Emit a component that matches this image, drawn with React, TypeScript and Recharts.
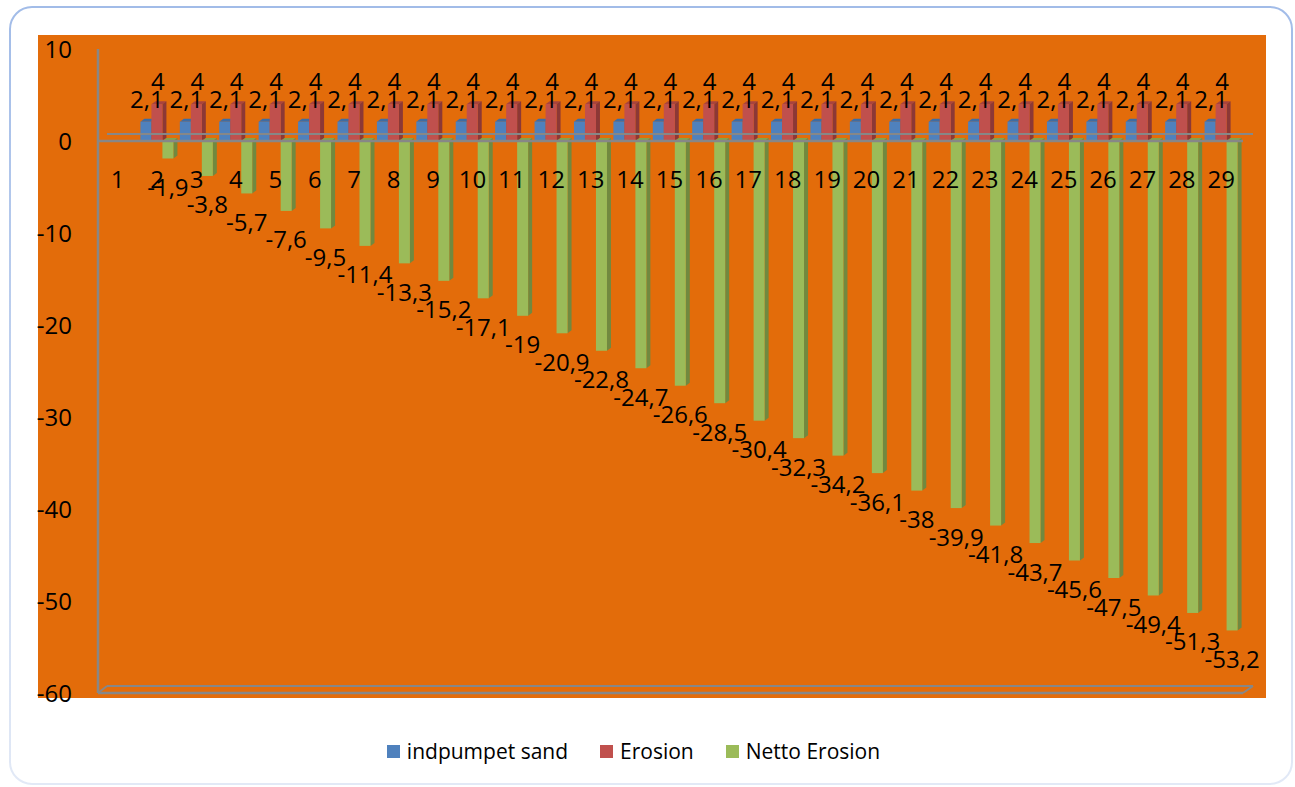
import React from 'react';
import { ComposedChart, Bar, Line, XAxis, YAxis, ReferenceLine, LabelList, Legend } from 'recharts';

const categories = ['1', '2', '3', '4', '5', '6', '7', '8', '9', '10', '11', '12', '13', '14', '15', '16', '17', '18', '19', '20', '21', '22', '23', '24', '25', '26', '27', '28', '29'];
const indpumpetSand = [null, 2.1, 2.1, 2.1, 2.1, 2.1, 2.1, 2.1, 2.1, 2.1, 2.1, 2.1, 2.1, 2.1, 2.1, 2.1, 2.1, 2.1, 2.1, 2.1, 2.1, 2.1, 2.1, 2.1, 2.1, 2.1, 2.1, 2.1, 2.1];
const erosion = [null, 4, 4, 4, 4, 4, 4, 4, 4, 4, 4, 4, 4, 4, 4, 4, 4, 4, 4, 4, 4, 4, 4, 4, 4, 4, 4, 4, 4];
const nettoErosion = [null, -1.9, -3.8, -5.7, -7.6, -9.5, -11.4, -13.3, -15.2, -17.1, -19, -20.9, -22.8, -24.7, -26.6, -28.5, -30.4, -32.3, -34.2, -36.1, -38, -39.9, -41.8, -43.7, -45.6, -47.5, -49.4, -51.3, -53.2];
const yTicks = [-60, -50, -40, -30, -20, -10, 0, 10];
const seriesNames = ['indpumpet sand', 'Erosion', 'Netto Erosion'];

const COLORS = ['#4F81BD', '#C0504D', '#9BBB59'];
const SIDE = ['#385D8A', '#8C3836', '#71893F'];
const TOP = ['#3F6CA3', '#A8433F', '#84A34A'];
const FONT = '"Open Sans", sans-serif';
const GRAY = '#878787';
const FS = 24;

const data = categories.map((c, i) => ({
  cat: c,
  sand: indpumpetSand[i],
  erosion: erosion[i],
  netto: nettoErosion[i],
}));

const make3D = (idx: number) => (props: any) => {
  const { x, y, width, height } = props;
  if (height == null || isNaN(height) || height === 0) return null;
  const top = Math.min(y, y + height);
  const h = Math.abs(height);
  const dx = 4;
  const dy = 3;
  return (
    <g>
      <polygon
        points={`${x},${top} ${x + dx},${top - dy} ${x + width + dx},${top - dy} ${x + width},${top}`}
        fill={TOP[idx]}
      />
      <polygon
        points={`${x + width},${top} ${x + width + dx},${top - dy} ${x + width + dx},${top + h - dy} ${x + width},${top + h}`}
        fill={SIDE[idx]}
      />
      <rect x={x} y={top} width={width} height={h} fill={COLORS[idx]} />
    </g>
  );
};

const fmt = (v: any) => String(v).replace('.', ',');

const topLabel = (props: any) => {
  const { x, y, width, height, value } = props;
  if (value == null) return null;
  const top = Math.min(y, y + height);
  return (
    <text x={x + width / 2 + 1} y={top - 14} textAnchor="middle" fontSize={FS} fontFamily={FONT} fill="#000">
      {fmt(value)}
    </text>
  );
};

const bottomLabel = (props: any) => {
  const { x, y, width, height, value } = props;
  if (value == null) return null;
  const bottom = Math.max(y, y + height);
  return (
    <text x={x + width / 2} y={bottom + 28} textAnchor="middle" dominantBaseline="central" fontSize={FS} fontFamily={FONT} fill="#000">
      {fmt(value)}
    </text>
  );
};

const catLabel = (props: any) => {
  const { x, y, value } = props;
  return (
    <text x={x} y={y + 37} textAnchor="middle" dominantBaseline="central" fontSize={FS} fontFamily={FONT} fill="#000">
      {value}
    </text>
  );
};

const floorShape = (closed: boolean) => (props: any) => {
  const { x1, y1, x2 } = props;
  const y = y1;
  const bx1 = x1 + 9;
  const bx2 = x2 + 12;
  const by = y - 7;
  return (
    <g>
      <line x1={bx1} y1={by} x2={bx2} y2={by} stroke={GRAY} strokeWidth={2} />
      <line x1={x1} y1={y} x2={x2 + 2} y2={y} stroke={GRAY} strokeWidth={2.5} />
      {closed && <line x1={x1} y1={y} x2={bx1} y2={by} stroke={GRAY} strokeWidth={2} />}
      {closed && <line x1={x2 + 2} y1={y} x2={bx2} y2={by} stroke={GRAY} strokeWidth={2} />}
    </g>
  );
};

const legendContent = () => (
  <div style={{ display: 'flex', justifyContent: 'center', alignItems: 'center', fontFamily: FONT, fontSize: 21, color: '#000' }}>
    {seriesNames.map((n, i) => (
      <div key={n} style={{ display: 'flex', alignItems: 'center', marginRight: i < 2 ? 32 : 0 }}>
        <div style={{ width: 13, height: 13, background: COLORS[i], marginRight: 7 }} />
        <span>{n}</span>
      </div>
    ))}
  </div>
);

export default function App() {
  return (
    <div style={{ position: 'absolute', left: 0, top: 0, width: 1295, height: 787, background: '#fff' }}>
      <svg width={1295} height={787} style={{ position: 'absolute', left: 0, top: 0 }}>
        <defs>
          <linearGradient id="frameGrad" x1="0" y1="0" x2="0" y2="1">
            <stop offset="0" stopColor="#A2BCE8" />
            <stop offset="1" stopColor="#E2E9F6" />
          </linearGradient>
        </defs>
        <rect x={10} y={7} width={1282} height={777} rx={22} ry={22} fill="#fff" stroke="url(#frameGrad)" strokeWidth={2} />
        <rect x={38} y={35} width={1228} height={663} fill="#E36C0A" />
      </svg>
      <div style={{ position: 'absolute', left: 0, top: 0 }}>
        <ComposedChart
          width={1295}
          height={787}
          data={data}
          margin={{ top: 49, right: 54, bottom: 94, left: 0 }}
          barGap={0}
          barSize={11}
          style={{ fontFamily: FONT }}
        >
          <XAxis dataKey="cat" hide />
          <YAxis
            width={98}
            domain={[-60, 10]}
            ticks={yTicks}
            interval={0}
            tickLine={false}
            tickSize={0}
            tickMargin={26}
            axisLine={{ stroke: GRAY, strokeWidth: 2.5 }}
            tick={{ fill: '#000', fontSize: FS, fontFamily: FONT }}
          />
          <ReferenceLine y={-60} ifOverflow="visible" shape={floorShape(true)} />
          <ReferenceLine y={0} ifOverflow="visible" shape={floorShape(false)} />
          <Bar dataKey="sand" name={seriesNames[0]} fill={COLORS[0]} shape={make3D(0)} isAnimationActive={false}>
            <LabelList dataKey="sand" content={topLabel} />
          </Bar>
          <Bar dataKey="erosion" name={seriesNames[1]} fill={COLORS[1]} shape={make3D(1)} isAnimationActive={false}>
            <LabelList dataKey="erosion" content={topLabel} />
          </Bar>
          <Bar dataKey="netto" name={seriesNames[2]} fill={COLORS[2]} shape={make3D(2)} isAnimationActive={false}>
            <LabelList dataKey="netto" content={bottomLabel} />
          </Bar>
          <Line dataKey={() => 0} stroke="none" dot={false} activeDot={false} legendType="none" isAnimationActive={false}>
            <LabelList dataKey="cat" content={catLabel} />
          </Line>
          <Legend
            layout="vertical"
            align="center"
            verticalAlign="middle"
            content={legendContent}
            wrapperStyle={{ position: 'absolute', top: 737, left: -14, width: 1295, height: 30 }}
          />
        </ComposedChart>
      </div>
    </div>
  );
}
